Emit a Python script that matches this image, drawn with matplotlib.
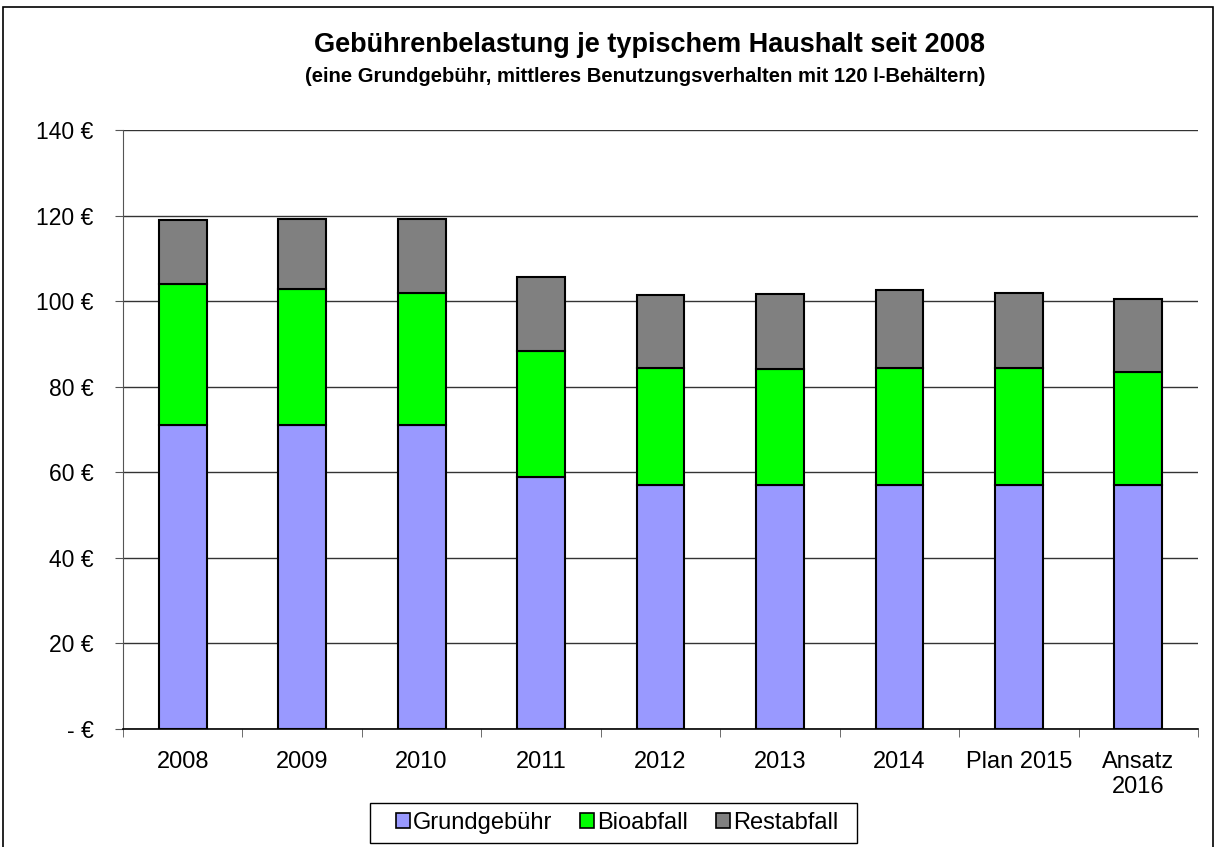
import matplotlib
matplotlib.use("Agg")
import matplotlib.pyplot as plt
from matplotlib.patches import Rectangle
import numpy as np

plt.rcParams['font.family'] = ['Liberation Sans', 'DejaVu Sans']

categories = ["2008", "2009", "2010", "2011", "2012", "2013", "2014", "Plan 2015", "Ansatz\n2016"]
grundgebuehr = [71.0, 71.0, 71.0, 59.0, 57.0, 57.0, 57.0, 57.0, 57.0]
bioabfall = [32.9, 31.8, 31.0, 29.4, 27.4, 27.1, 27.4, 27.3, 26.4]
restabfall = [15.0, 16.3, 17.1, 17.3, 17.0, 17.5, 18.1, 17.7, 17.2]
yticks = [0, 20, 40, 60, 80, 100, 120, 140]
ytick_labels = ["- €", "20 €", "40 €", "60 €", "80 €", "100 €", "120 €", "140 €"]

fig = plt.figure(figsize=(12.17, 8.47), dpi=100)
ax = fig.add_axes([123/1217, 118/847, 1075/1217, 599/847])

x = np.arange(len(categories))
w = 0.4
g = np.array(grundgebuehr)
b = np.array(bioabfall)
r = np.array(restabfall)
ax.bar(x, g, w, color="#9999FF", edgecolor="black", linewidth=1.5, label="Grundgebühr", zorder=3)
ax.bar(x, b, w, bottom=g, color="#00FF00", edgecolor="black", linewidth=1.5, label="Bioabfall", zorder=3)
ax.bar(x, r, w, bottom=g + b, color="#808080", edgecolor="black", linewidth=1.5, label="Restabfall", zorder=3)

ax.set_xlim(-0.5, len(categories) - 0.5)
ax.set_ylim(0, 140)
ax.set_yticks(yticks)
ax.set_yticklabels(ytick_labels, fontsize=16.5)
ax.yaxis.grid(True, color="#333333", linewidth=1.0, zorder=0)
ax.set_axisbelow(True)

ax.set_xticks(x)
ax.set_xticklabels(categories, fontsize=17, linespacing=1.15)
ax.tick_params(axis='x', which='major', length=0, pad=16)
ax.set_xticks(np.arange(len(categories) + 1) - 0.5, minor=True)
ax.tick_params(axis='x', which='minor', length=6, direction='out', color="#555555")
ax.tick_params(axis='y', length=6, direction='out', color="#555555", pad=15)

for s in ["top", "right"]:
    ax.spines[s].set_visible(False)
ax.spines["left"].set_color("#555555")
ax.spines["bottom"].set_color("black")
ax.spines["bottom"].set_linewidth(1.2)

fig.text(650/1217, 1 - 45/847, "Gebührenbelastung je typischem Haushalt seit 2008",
         ha="center", va="center", fontsize=19.5, fontweight="bold")
fig.text(645/1217, 1 - 77/847, "(eine Grundgebühr, mittleres Benutzungsverhalten mit 120 l-Behältern)",
         ha="center", va="center", fontsize=14.6, fontweight="bold")

leg = fig.legend(loc="center", bbox_to_anchor=(617/1217, 1 - 823/847), ncol=3, fontsize=17,
                 frameon=False, handlelength=0.6, handleheight=0.6, handletextpad=0.15,
                 columnspacing=1.15, borderpad=0.0)
for h in leg.legend_handles:
    h.set_linewidth(1.2)

fig.patches.append(Rectangle((370/1217, 1 - 843/847), 487/1217, 40/847, transform=fig.transFigure,
                             fill=False, edgecolor="black", linewidth=1.0, zorder=5))

fig.patches.append(Rectangle((3/1217, -0.05), 1210/1217, 1.05 - 7/847, transform=fig.transFigure,
                             fill=False, edgecolor="black", linewidth=1.2, zorder=0))

fig.savefig("out.png", dpi=100)
